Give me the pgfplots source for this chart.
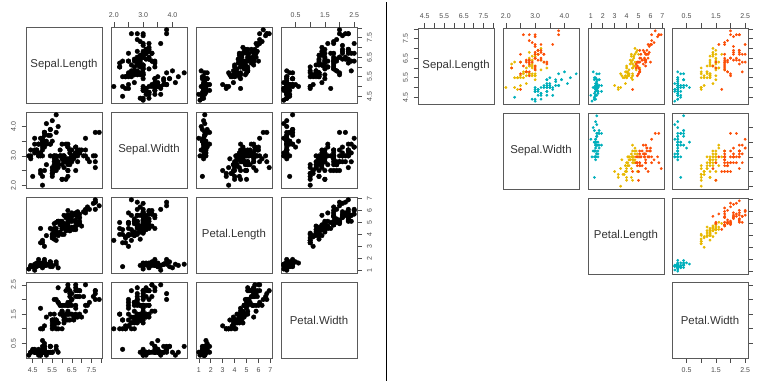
\documentclass[border=0pt]{standalone}
\usepackage{pgfplots}
\pgfplotsset{compat=1.18}
\usepackage{pgfplotstable}
\usepackage{fontspec}
\setmainfont{Liberation Sans}
\definecolor{cSet}{HTML}{00AFBB}
\definecolor{cVer}{HTML}{E7B800}
\definecolor{cVir}{HTML}{FC4E07}
\definecolor{frm}{HTML}{5A5A5A}
\definecolor{lab}{HTML}{333333}

\pgfplotstableread{
SL SW PL PW
5.1 3.5 1.4 0.2
4.9 3.0 1.4 0.2
4.7 3.2 1.3 0.2
4.6 3.1 1.5 0.2
5.0 3.6 1.4 0.2
5.4 3.9 1.7 0.4
4.6 3.4 1.4 0.3
5.0 3.4 1.5 0.2
4.4 2.9 1.4 0.2
4.9 3.1 1.5 0.1
5.4 3.7 1.5 0.2
4.8 3.4 1.6 0.2
4.8 3.0 1.4 0.1
4.3 3.0 1.1 0.1
5.8 4.0 1.2 0.2
5.7 4.4 1.5 0.4
5.4 3.9 1.3 0.4
5.1 3.5 1.4 0.3
5.7 3.8 1.7 0.3
5.1 3.8 1.5 0.3
5.4 3.4 1.7 0.2
5.1 3.7 1.5 0.4
4.6 3.6 1.0 0.2
5.1 3.3 1.7 0.5
4.8 3.4 1.9 0.2
5.0 3.0 1.6 0.2
5.0 3.4 1.6 0.4
5.2 3.5 1.5 0.2
5.2 3.4 1.4 0.2
4.7 3.2 1.6 0.2
4.8 3.1 1.6 0.2
5.4 3.4 1.5 0.4
5.2 4.1 1.5 0.1
5.5 4.2 1.4 0.2
4.9 3.1 1.5 0.2
5.0 3.2 1.2 0.2
5.5 3.5 1.3 0.2
4.9 3.6 1.4 0.1
4.4 3.0 1.3 0.2
5.1 3.4 1.5 0.2
5.0 3.5 1.3 0.3
4.5 2.3 1.3 0.3
4.4 3.2 1.3 0.2
5.0 3.5 1.6 0.6
5.1 3.8 1.9 0.4
4.8 3.0 1.4 0.3
5.1 3.8 1.6 0.2
4.6 3.2 1.4 0.2
5.3 3.7 1.5 0.2
5.0 3.3 1.4 0.2
}\setosa

\pgfplotstableread{
SL SW PL PW
7.0 3.2 4.7 1.4
6.4 3.2 4.5 1.5
6.9 3.1 4.9 1.5
5.5 2.3 4.0 1.3
6.5 2.8 4.6 1.5
5.7 2.8 4.5 1.3
6.3 3.3 4.7 1.6
4.9 2.4 3.3 1.0
6.6 2.9 4.6 1.3
5.2 2.7 3.9 1.4
5.0 2.0 3.5 1.0
5.9 3.0 4.2 1.5
6.0 2.2 4.0 1.0
6.1 2.9 4.7 1.4
5.6 2.9 3.6 1.3
6.7 3.1 4.4 1.4
5.6 3.0 4.5 1.5
5.8 2.7 4.1 1.0
6.2 2.2 4.5 1.5
5.6 2.5 3.9 1.1
5.9 3.2 4.8 1.8
6.1 2.8 4.0 1.3
6.3 2.5 4.9 1.5
6.1 2.8 4.7 1.2
6.4 2.9 4.3 1.3
6.6 3.0 4.4 1.4
6.8 2.8 4.8 1.4
6.7 3.0 5.0 1.7
6.0 2.9 4.5 1.5
5.7 2.6 3.5 1.0
5.5 2.4 3.8 1.1
5.5 2.4 3.7 1.0
5.8 2.7 3.9 1.2
6.0 2.7 5.1 1.6
5.4 3.0 4.5 1.5
6.0 3.4 4.5 1.6
6.7 3.1 4.7 1.5
6.3 2.3 4.4 1.3
5.6 3.0 4.1 1.3
5.5 2.5 4.0 1.3
5.5 2.6 4.4 1.2
6.1 3.0 4.6 1.4
5.8 2.6 4.0 1.2
5.0 2.3 3.3 1.0
5.6 2.7 4.2 1.3
5.7 3.0 4.2 1.2
5.7 2.9 4.2 1.3
6.2 2.9 4.3 1.3
5.1 2.5 3.0 1.1
5.7 2.8 4.1 1.3
}\versicolor

\pgfplotstableread{
SL SW PL PW
6.3 3.3 6.0 2.5
5.8 2.7 5.1 1.9
7.1 3.0 5.9 2.1
6.3 2.9 5.6 1.8
6.5 3.0 5.8 2.2
7.6 3.0 6.6 2.1
4.9 2.5 4.5 1.7
7.3 2.9 6.3 1.8
6.7 2.5 5.8 1.8
7.2 3.6 6.1 2.5
6.5 3.2 5.1 2.0
6.4 2.7 5.3 1.9
6.8 3.0 5.5 2.1
5.7 2.5 5.0 2.0
5.8 2.8 5.1 2.4
6.4 3.2 5.3 2.3
6.5 3.0 5.5 1.8
7.7 3.8 6.7 2.2
7.7 2.6 6.9 2.3
6.0 2.2 5.0 1.5
6.9 3.2 5.7 2.3
5.6 2.8 4.9 2.0
7.7 2.8 6.7 2.0
6.3 2.7 4.9 1.8
6.7 3.3 5.7 2.1
7.2 3.2 6.0 1.8
6.2 2.8 4.8 1.8
6.1 3.0 4.9 1.8
6.4 2.8 5.6 2.1
7.2 3.0 5.8 1.6
7.4 2.8 6.1 1.9
7.9 3.8 6.4 2.0
6.4 2.8 5.6 2.2
6.3 2.8 5.1 1.5
6.1 2.6 5.6 1.4
7.7 3.0 6.1 2.3
6.3 3.4 5.6 2.4
6.4 3.1 5.5 1.8
6.0 3.0 4.8 1.8
6.9 3.1 5.4 2.1
6.7 3.1 5.6 2.4
6.9 3.1 5.1 2.3
5.8 2.7 5.1 1.9
6.8 3.2 5.9 2.3
6.7 3.3 5.7 2.5
6.7 3.0 5.2 2.3
6.3 2.5 5.0 1.9
6.5 3.0 5.2 2.0
6.2 3.4 5.4 2.3
5.9 3.0 5.1 1.8
}\virginica

\pgfplotsset{
  pan/.style={scale only axis, width=76pt, height=76pt, anchor=north west,
    axis line style={draw=frm, line width=0.8pt},
    xtick=\empty, ytick=\empty, tick align=outside,
    major tick length=4.5pt,
    tick style={draw=black!70, line width=0.6pt},
    ticklabel style={font=\fontsize{7}{8}\selectfont, text=black!70},
    xticklabel shift=1.8pt, yticklabel shift=2pt,
    clip=true},
  SLx/.style={xmin=4.156,xmax=8.044},
  SLy/.style={ymin=4.156,ymax=8.044},
  SWx/.style={xmin=1.904,xmax=4.496},
  SWy/.style={ymin=1.904,ymax=4.496},
  PLx/.style={xmin=0.764,xmax=7.136},
  PLy/.style={ymin=0.764,ymax=7.136},
  PWx/.style={xmin=0.004,xmax=2.596},
  PWy/.style={ymin=0.004,ymax=2.596},
  tSLx/.style={xtick={4.5,5,5.5,6,6.5,7,7.5,8}, xticklabels={4.5,,5.5,,6.5,,7.5,}},
  tSLy/.style={ytick={4.5,5,5.5,6,6.5,7,7.5,8}, yticklabels={4.5,,5.5,,6.5,,7.5,}},
  tSWx/.style={xtick={2,2.5,3,3.5,4}, xticklabels={2.0,,3.0,,4.0}},
  tSWy/.style={ytick={2,2.5,3,3.5,4}, yticklabels={2.0,,3.0,,4.0}},
  tPLx/.style={xtick={1,2,3,4,5,6,7}, xticklabels={1,2,3,4,5,6,7}},
  tPLy/.style={ytick={1,2,3,4,5,6,7}, yticklabels={1,2,3,4,5,6,7}},
  tPWx/.style={xtick={0.5,1,1.5,2,2.5}, xticklabels={0.5,,1.5,,2.5}},
  tPWy/.style={ytick={0.5,1,1.5,2,2.5}, yticklabels={0.5,,1.5,,2.5}},
  top/.style={xtick pos=upper, xticklabel pos=upper},
  bot/.style={xtick pos=lower, xticklabel pos=lower},
  lft/.style={ytick pos=left, yticklabel pos=left, yticklabel style={rotate=90, anchor=south}},
  rgt/.style={ytick pos=right, yticklabel pos=right, yticklabel style={rotate=90, anchor=north}},
  nolab/.style={yticklabels={,,,,,,,,}},
  bdot/.style={only marks, mark=*, mark size=2.3pt, draw=black, fill=black},
  sdot/.style={only marks, mark=*, mark size=1.2pt, draw=#1, fill=#1},
}

\newcommand{\bpanel}[5]{%
\begin{axis}[pan, at={(#1pt,#2pt)}, #5]
\addplot[bdot] table[x=#3,y=#4]{\setosa};
\addplot[bdot] table[x=#3,y=#4]{\versicolor};
\addplot[bdot] table[x=#3,y=#4]{\virginica};
\end{axis}}

\newcommand{\cpanel}[5]{%
\begin{axis}[pan, at={(#1pt,#2pt)}, #5]
\addplot[sdot=cSet] table[x=#3,y=#4]{\setosa};
\addplot[sdot=cVer] table[x=#3,y=#4]{\versicolor};
\addplot[sdot=cVir] table[x=#3,y=#4]{\virginica};
\end{axis}}

\newcommand{\dpanel}[4]{%
\begin{axis}[pan, at={(#1pt,#2pt)}, xmin=0,xmax=1,ymin=0,ymax=1, #4]
\node[text=lab, font=\fontsize{11.4}{13}\selectfont] at (rel axis cs:0.5,0.5) {#3};
\end{axis}}

\begin{document}
\begin{tikzpicture}
\path[use as bounding box] (0,0) rectangle (758pt,383pt);
% ---------------- left pairs plot ----------------
% row 1
\dpanel{26}{356}{Sepal.Length}{}
\bpanel{111}{356}{SW}{SL}{SWx,SLy,tSWx,top}
\bpanel{196}{356}{PL}{SL}{PLx,SLy}
\bpanel{281}{356}{PW}{SL}{PWx,SLy,tPWx,top,tSLy,rgt}
% row 2
\bpanel{26}{271}{SL}{SW}{SLx,SWy,tSWy,lft}
\dpanel{111}{271}{Sepal.Width}{}
\bpanel{196}{271}{PL}{SW}{PLx,SWy}
\bpanel{281}{271}{PW}{SW}{PWx,SWy}
% row 3
\bpanel{26}{186}{SL}{PL}{SLx,PLy}
\bpanel{111}{186}{SW}{PL}{SWx,PLy}
\dpanel{196}{186}{Petal.Length}{}
\bpanel{281}{186}{PW}{PL}{PWx,PLy,tPLy,rgt}
% row 4
\bpanel{26}{101}{SL}{PW}{SLx,PWy,tSLx,bot,tPWy,lft}
\bpanel{111}{101}{SW}{PW}{SWx,PWy}
\bpanel{196}{101}{PL}{PW}{PLx,PWy,tPLx,bot}
\dpanel{281}{101}{Petal.Width}{}
% separator
\draw[black, line width=1pt] (386pt,2pt) -- (386pt,381pt);
% ---------------- right pairs plot ----------------
\dpanel{418}{355}{Sepal.Length}{SLx,SLy,tSLx,top,tSLy,lft}
\cpanel{503}{355}{SW}{SL}{SWx,SLy,tSWx,top}
\cpanel{588}{355}{PL}{SL}{PLx,SLy,tPLx,top}
\cpanel{672}{355}{PW}{SL}{PWx,SLy,tPWx,top,tSLy,rgt,nolab}
\dpanel{503}{270}{Sepal.Width}{}
\cpanel{588}{270}{PL}{SW}{PLx,SWy}
\cpanel{672}{270}{PW}{SW}{PWx,SWy,tSWy,rgt,nolab}
\dpanel{588}{185}{Petal.Length}{}
\cpanel{672}{185}{PW}{PL}{PWx,PLy,tPLy,rgt,nolab}
\dpanel{672}{101}{Petal.Width}{PWx,PWy,tPWx,bot,tPWy,rgt,nolab}
\end{tikzpicture}
\end{document}
